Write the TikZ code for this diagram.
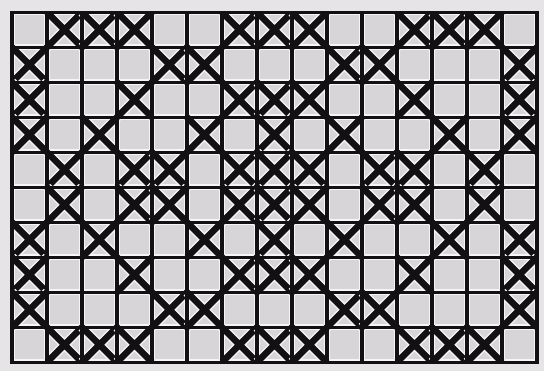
\documentclass[tikz,border=0pt]{standalone}
\usepackage{tikz}
\usepackage{xcolor}
\definecolor{PaperGrey}{RGB}{231,228,231}
\definecolor{CellGrey}{RGB}{216,213,216}
\definecolor{CellEdge}{RGB}{246,244,246}
\definecolor{InkBlack}{RGB}{18,16,18}

\begin{document}
\begin{tikzpicture}[
    x=1cm, y=1cm,
    gridline/.style={draw=InkBlack, line width=2.6pt},
    frameline/.style={draw=InkBlack, line width=2.8pt, line join=miter},
    cellfill/.style={fill=CellGrey},
    crosshalo/.style={draw=CellEdge, line width=7.6pt},
    crossline/.style={draw=InkBlack, line width=5.4pt}
]

% PAPER
\fill[PaperGrey] (-0.343,-0.257) rectangle (15.2,10.35);
\useasboundingbox (-0.343,-0.257) rectangle (15.2,10.35);

% CELLS
\fill[CellEdge] (0,0) rectangle (15,10);
\foreach \c in {0,...,14} {
  \foreach \r in {0,...,9} {
    \fill[cellfill] (\c+0.08,\r+0.08) rectangle (\c+0.92,\r+0.92);
  }
}

% CROSSES (row from top / marked columns)
\begin{scope}
\clip (0,0) rectangle (15,10);
\foreach \r/\cols in {
    1/{2,3,4,7,8,9,12,13,14},
    2/{1,5,6,10,11,15},
    3/{1,4,7,8,9,12,15},
    4/{1,3,6,8,10,13,15},
    5/{2,4,5,7,8,9,11,12,14},
    6/{2,4,5,7,8,9,11,12,14},
    7/{1,3,6,8,10,13,15},
    8/{1,4,7,8,9,12,15},
    9/{1,5,6,10,11,15},
    10/{2,3,4,7,8,9,12,13,14}} {
  \foreach \c in \cols {
    \draw[crosshalo] (\c-1,10-\r) -- (\c,11-\r) (\c-1,11-\r) -- (\c,10-\r);
    \draw[crossline] (\c-1,10-\r) -- (\c,11-\r) (\c-1,11-\r) -- (\c,10-\r);
  }
}
\end{scope}

% GRID
\foreach \c in {1,...,14} {
  \draw[gridline] (\c,0) -- (\c,10);
}
\foreach \r in {1,...,9} {
  \draw[gridline] (0,\r) -- (15,\r);
}
\draw[frameline] (0,0) rectangle (15,10);

\end{tikzpicture}
\end{document}
